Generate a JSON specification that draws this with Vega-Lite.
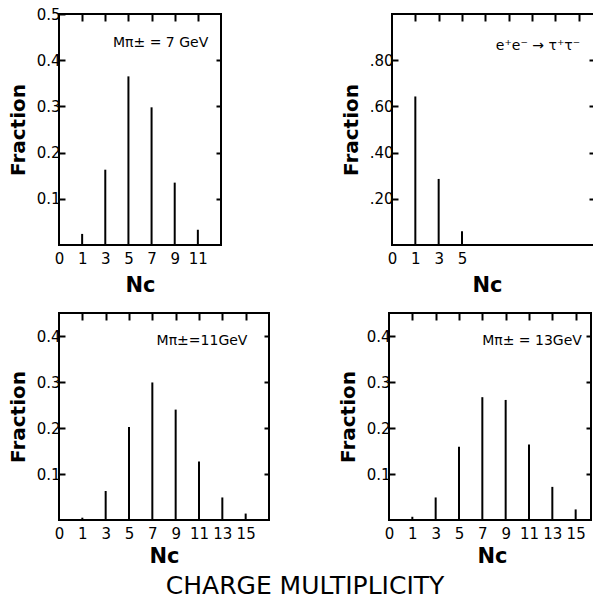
{
  "$schema": "https://vega.github.io/schema/vega-lite/v6.json",
  "padding": {"left": 7, "top": 6, "right": 0, "bottom": 2},
  "background": "white",
  "config": {
    "font": "DejaVu Sans",
    "view": {"stroke": "black", "strokeWidth": 2},
    "axis": {
      "domain": false,
      "labelFont": "DejaVu Sans",
      "labelFontSize": 15,
      "labelColor": "black",
      "tickColor": "black",
      "tickWidth": 2,
      "grid": false,
      "titleFont": "DejaVu Sans",
      "titleFontWeight": "bold",
      "titleColor": "black"
    }
  },
  "datasets": {
    "bars": [
      {"panel": 1, "nc": 1, "frac": 0.024},
      {"panel": 1, "nc": 3, "frac": 0.163},
      {"panel": 1, "nc": 5, "frac": 0.365},
      {"panel": 1, "nc": 7, "frac": 0.298},
      {"panel": 1, "nc": 9, "frac": 0.135},
      {"panel": 1, "nc": 11, "frac": 0.033},
      {"panel": 2, "nc": 1, "frac": 0.643},
      {"panel": 2, "nc": 3, "frac": 0.286},
      {"panel": 2, "nc": 5, "frac": 0.06},
      {"panel": 3, "nc": 1, "frac": 0.005},
      {"panel": 3, "nc": 3, "frac": 0.063},
      {"panel": 3, "nc": 5, "frac": 0.202},
      {"panel": 3, "nc": 7, "frac": 0.299},
      {"panel": 3, "nc": 9, "frac": 0.24},
      {"panel": 3, "nc": 11, "frac": 0.127},
      {"panel": 3, "nc": 13, "frac": 0.049},
      {"panel": 3, "nc": 15, "frac": 0.014},
      {"panel": 4, "nc": 1, "frac": 0.007},
      {"panel": 4, "nc": 3, "frac": 0.049},
      {"panel": 4, "nc": 5, "frac": 0.159},
      {"panel": 4, "nc": 7, "frac": 0.267},
      {"panel": 4, "nc": 9, "frac": 0.261},
      {"panel": 4, "nc": 11, "frac": 0.164},
      {"panel": 4, "nc": 13, "frac": 0.072},
      {"panel": 4, "nc": 15, "frac": 0.023}
    ],
    "notes": [
      {"panel": 1, "nc": 7, "frac": 0.437, "label": "Mπ± = 7 GeV"},
      {"panel": 2, "nc": 11, "frac": 0.86, "label": "e⁺e⁻ → τ⁺τ⁻"},
      {"panel": 3, "nc": 11, "frac": 0.389, "label": "Mπ±=11GeV"},
      {"panel": 4, "nc": 11, "frac": 0.389, "label": "Mπ± = 13GeV"}
    ]
  },
  "title": {
    "text": "CHARGE MULTIPLICITY",
    "orient": "bottom",
    "anchor": "middle",
    "fontSize": 25,
    "fontWeight": "normal",
    "font": "DejaVu Sans",
    "color": "black",
    "offset": 7
  },
  "spacing": 15,
  "vconcat": [
    {
      "spacing": 117,
      "hconcat": [
        {
          "width": 162,
          "height": 231,
          "layer": [
            {
              "data": {"name": "bars"},
              "transform": [{"filter": "datum.panel == 1"}],
              "mark": {"type": "rule", "strokeWidth": 2, "color": "black"},
              "encoding": {
                "x": {"field": "nc", "type": "ordinal",
                  "scale": {"type": "point", "domain": [0, 1, 3, 5, 7, 9, 11, 13], "padding": 0},
                  "axis": {"orient": "bottom", "values": [0, 1, 3, 5, 7, 9, 11], "ticks": false, "labelPadding": 6, "labelAngle": 0, "title": "Nc", "titleFontSize": 21, "titlePadding": 8}},
                "y": {"field": "frac", "type": "quantitative",
                  "scale": {"domain": [0, 0.5], "nice": false},
                  "axis": {"orient": "left", "values": [0.1, 0.2, 0.3, 0.4, 0.5], "format": ".1f", "tickSize": -6, "labelPadding": 5, "title": "Fraction", "titleFontSize": 20, "titlePadding": 8}},
                "y2": {"datum": 0}
              }
            },
            {
              "data": {"name": "bars"},
              "transform": [{"filter": "datum.panel == 1"}],
              "mark": {"type": "rule", "opacity": 0},
              "encoding": {
                "x": {"field": "nc", "type": "ordinal",
                  "axis": {"orient": "top", "values": [1, 3, 5, 7, 9, 11], "labels": false, "tickSize": -7, "title": null}},
                "y": {"field": "frac", "type": "quantitative",
                  "axis": {"orient": "right", "values": [0.1, 0.2, 0.3, 0.4], "labels": false, "tickSize": -5, "title": null}},
                "y2": {"datum": 0}
              }
            },
            {
              "data": {"name": "notes"},
              "transform": [{"filter": "datum.panel == 1"}],
              "mark": {"type": "text", "fontSize": 14, "color": "black", "align": "center", "dx": 9},
              "encoding": {
                "x": {"field": "nc", "type": "ordinal", "axis": null},
                "y": {"field": "frac", "type": "quantitative", "axis": null},
                "text": {"field": "label"}
              }
            }
          ],
          "resolve": {"axis": {"x": "independent", "y": "independent"}}
        },
        {
          "width": 202,
          "height": 231,
          "layer": [
            {
              "data": {"name": "bars"},
              "transform": [{"filter": "datum.panel == 2"}],
              "mark": {"type": "rule", "strokeWidth": 2, "color": "black"},
              "encoding": {
                "x": {"field": "nc", "type": "ordinal",
                  "scale": {"type": "point", "domain": [0, 1, 3, 5, 7, 9, 11, 13, 15, 17], "padding": 0, "range": [0, 210]},
                  "axis": {"orient": "bottom", "values": [0, 1, 3, 5], "ticks": false, "labelPadding": 6, "labelAngle": 0, "title": "Nc", "titleFontSize": 21, "titlePadding": 8, "titleAnchor": "start", "titleX": 80}},
                "y": {"field": "frac", "type": "quantitative",
                  "scale": {"domain": [0, 1], "nice": false},
                  "axis": {"orient": "left", "values": [0.2, 0.4, 0.6, 0.8], "labelExpr": "replace(format(datum.value, '.2f'), /^0/, '')", "tickSize": -6, "labelPadding": 5, "title": "Fraction", "titleFontSize": 20, "titlePadding": 8}},
                "y2": {"datum": 0}
              }
            },
            {
              "data": {"name": "bars"},
              "transform": [{"filter": "datum.panel == 2"}],
              "mark": {"type": "rule", "opacity": 0},
              "encoding": {
                "x": {"field": "nc", "type": "ordinal",
                  "axis": {"orient": "top", "values": [1, 3, 5, 7, 9, 11, 13, 15], "labels": false, "tickSize": -7, "title": null}},
                "y": {"field": "frac", "type": "quantitative",
                  "axis": {"orient": "right", "values": [0.2, 0.4, 0.6, 0.8], "labels": false, "tickSize": -5, "title": null}},
                "y2": {"datum": 0}
              }
            },
            {
              "data": {"name": "notes"},
              "transform": [{"filter": "datum.panel == 2"}],
              "mark": {"type": "text", "fontSize": 14, "color": "black", "align": "center", "dx": 6},
              "encoding": {
                "x": {"field": "nc", "type": "ordinal", "axis": null},
                "y": {"field": "frac", "type": "quantitative", "axis": null},
                "text": {"field": "label"}
              }
            }
          ],
          "resolve": {"axis": {"x": "independent", "y": "independent"}}
        }
      ]
    },
    {
      "spacing": 66,
      "hconcat": [
        {
          "width": 210,
          "height": 207,
          "layer": [
            {
              "data": {"name": "bars"},
              "transform": [{"filter": "datum.panel == 3"}],
              "mark": {"type": "rule", "strokeWidth": 2, "color": "black"},
              "encoding": {
                "x": {"field": "nc", "type": "ordinal",
                  "scale": {"type": "point", "domain": [0, 1, 3, 5, 7, 9, 11, 13, 15, 17], "padding": 0},
                  "axis": {"orient": "bottom", "values": [0, 1, 3, 5, 7, 9, 11, 13, 15], "ticks": false, "labelPadding": 6, "labelAngle": 0, "title": "Nc", "titleFontSize": 21, "titlePadding": 4}},
                "y": {"field": "frac", "type": "quantitative",
                  "scale": {"domain": [0, 0.45], "nice": false},
                  "axis": {"orient": "left", "values": [0.1, 0.2, 0.3, 0.4], "format": ".1f", "tickSize": -6, "labelPadding": 5, "title": "Fraction", "titleFontSize": 20, "titlePadding": 8}},
                "y2": {"datum": 0}
              }
            },
            {
              "data": {"name": "bars"},
              "transform": [{"filter": "datum.panel == 3"}],
              "mark": {"type": "rule", "opacity": 0},
              "encoding": {
                "x": {"field": "nc", "type": "ordinal",
                  "axis": {"orient": "top", "values": [1, 3, 5, 7, 9, 11, 13, 15], "labels": false, "tickSize": -7, "title": null}},
                "y": {"field": "frac", "type": "quantitative",
                  "axis": {"orient": "right", "values": [0.1, 0.2, 0.3, 0.4], "labels": false, "tickSize": -5, "title": null}},
                "y2": {"datum": 0}
              }
            },
            {
              "data": {"name": "notes"},
              "transform": [{"filter": "datum.panel == 3"}],
              "mark": {"type": "text", "fontSize": 14, "color": "black", "align": "center", "dx": 3},
              "encoding": {
                "x": {"field": "nc", "type": "ordinal", "axis": null},
                "y": {"field": "frac", "type": "quantitative", "axis": null},
                "text": {"field": "label"}
              }
            }
          ],
          "resolve": {"axis": {"x": "independent", "y": "independent"}}
        },
        {
          "width": 202,
          "height": 207,
          "layer": [
            {
              "data": {"name": "bars"},
              "transform": [{"filter": "datum.panel == 4"}],
              "mark": {"type": "rule", "strokeWidth": 2, "color": "black"},
              "encoding": {
                "x": {"field": "nc", "type": "ordinal",
                  "scale": {"type": "point", "domain": [0, 1, 3, 5, 7, 9, 11, 13, 15, 17], "padding": 0, "range": [0, 210]},
                  "axis": {"orient": "bottom", "values": [0, 1, 3, 5, 7, 9, 11, 13, 15], "ticks": false, "labelPadding": 6, "labelAngle": 0, "title": "Nc", "titleFontSize": 21, "titlePadding": 4, "titleAnchor": "start", "titleX": 88}},
                "y": {"field": "frac", "type": "quantitative",
                  "scale": {"domain": [0, 0.45], "nice": false},
                  "axis": {"orient": "left", "values": [0.1, 0.2, 0.3, 0.4], "format": ".1f", "tickSize": -6, "labelPadding": 5, "title": "Fraction", "titleFontSize": 20, "titlePadding": 8}},
                "y2": {"datum": 0}
              }
            },
            {
              "data": {"name": "bars"},
              "transform": [{"filter": "datum.panel == 4"}],
              "mark": {"type": "rule", "opacity": 0},
              "encoding": {
                "x": {"field": "nc", "type": "ordinal",
                  "axis": {"orient": "top", "values": [1, 3, 5, 7, 9, 11, 13, 15], "labels": false, "tickSize": -7, "title": null}},
                "y": {"field": "frac", "type": "quantitative",
                  "axis": {"orient": "right", "values": [0.1, 0.2, 0.3, 0.4], "labels": false, "tickSize": -5, "title": null}},
                "y2": {"datum": 0}
              }
            },
            {
              "data": {"name": "notes"},
              "transform": [{"filter": "datum.panel == 4"}],
              "mark": {"type": "text", "fontSize": 14, "color": "black", "align": "center", "dx": 3},
              "encoding": {
                "x": {"field": "nc", "type": "ordinal", "axis": null},
                "y": {"field": "frac", "type": "quantitative", "axis": null},
                "text": {"field": "label"}
              }
            }
          ],
          "resolve": {"axis": {"x": "independent", "y": "independent"}}
        }
      ]
    }
  ]
}
